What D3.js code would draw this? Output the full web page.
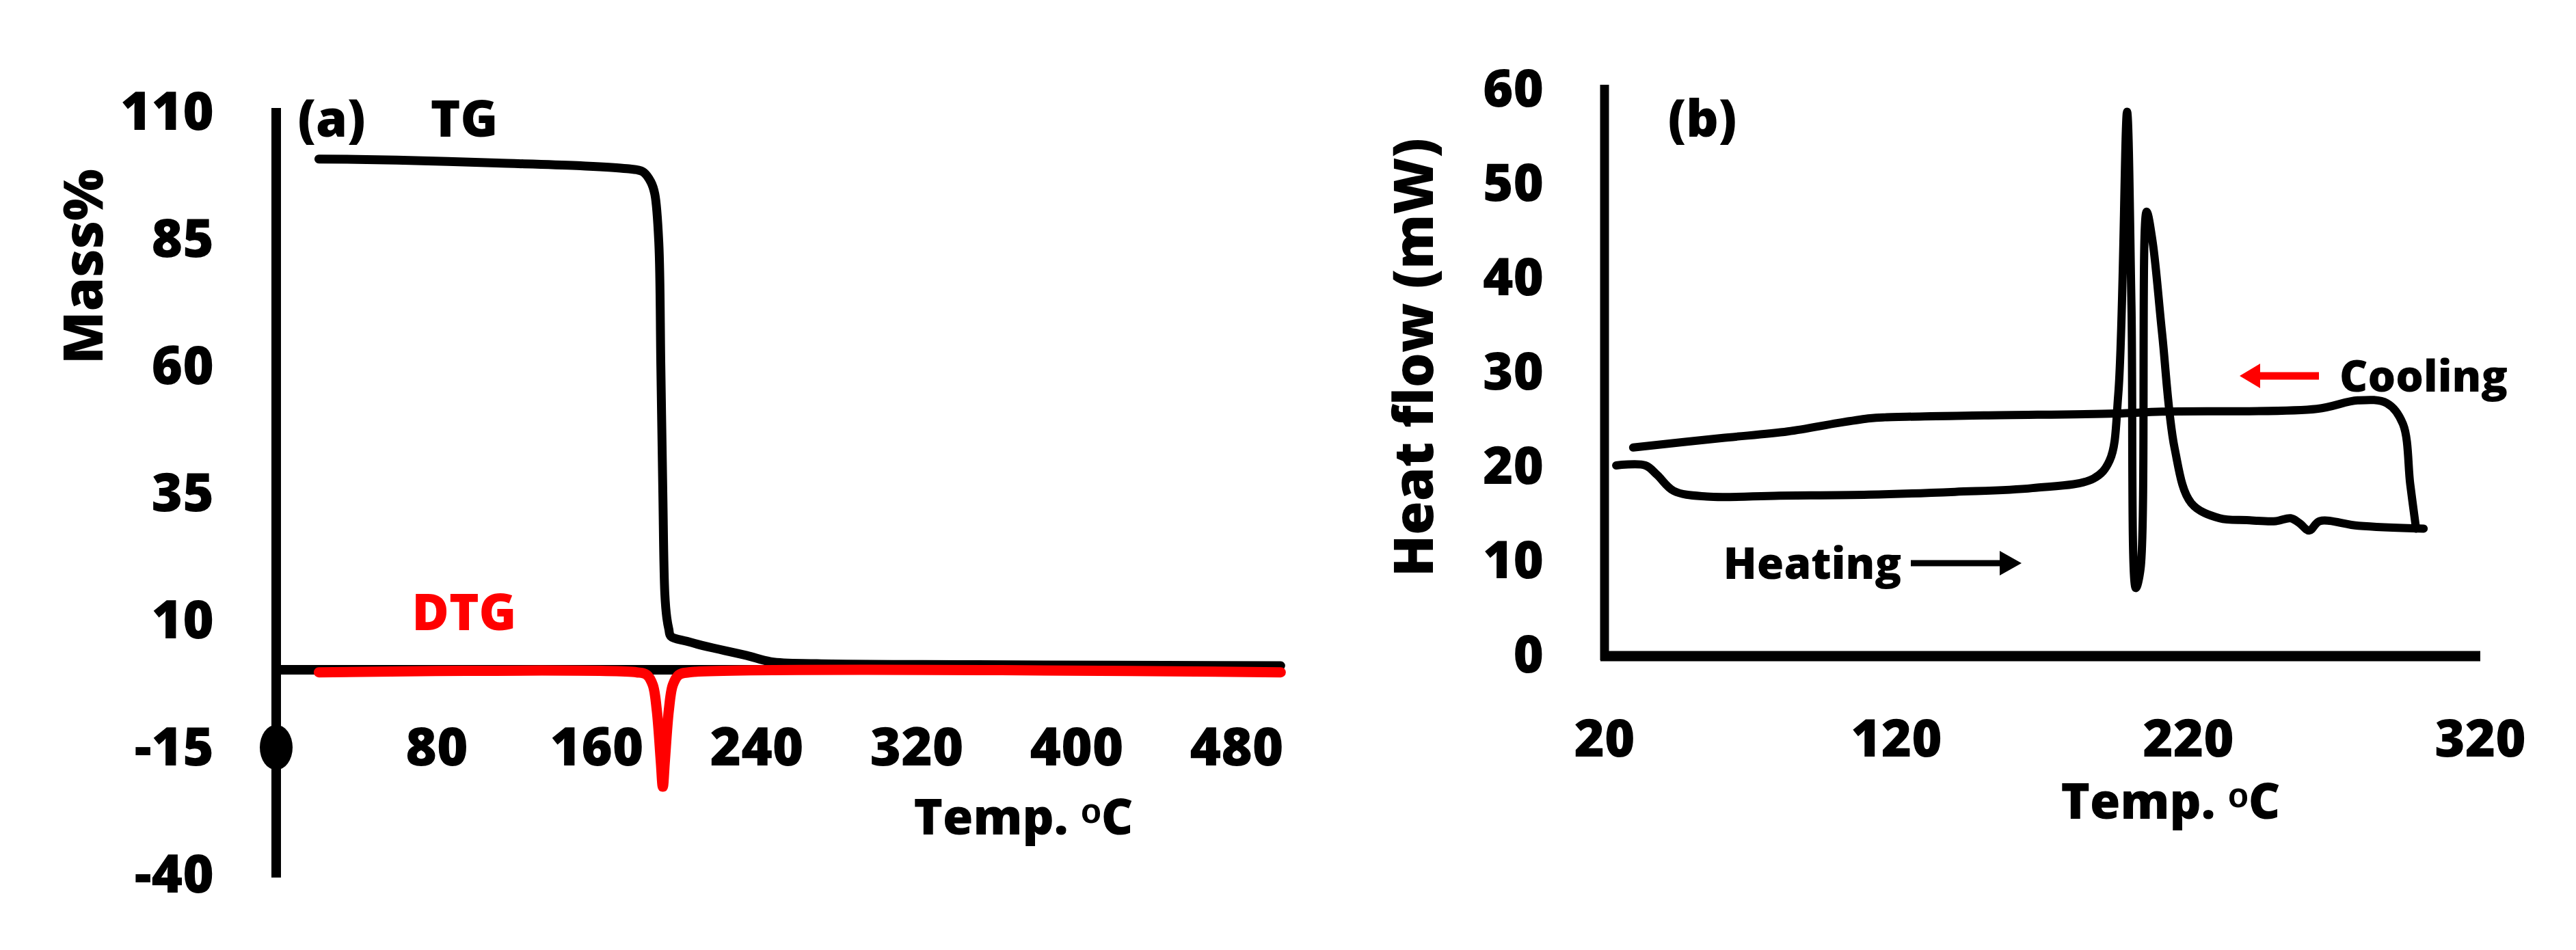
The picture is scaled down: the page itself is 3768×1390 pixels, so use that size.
<!DOCTYPE html>
<html><head><meta charset="utf-8">
<script src="https://cdn.jsdelivr.net/npm/d3@7/dist/d3.min.js"></script>
<style>body{margin:0;background:#fff}text{font-family:"Open Sans",sans-serif;font-weight:800}</style>
</head><body><svg id="c" width="3768" height="1390"></svg>
<script>
// Panel (a) data
const aYTicks = [110, 85, 60, 35, 10, -15, -40];
const aXTicks = [80, 160, 240, 320, 400, 480];
const tgT = [21, 60, 110, 150, 175, 183, 187, 189, 191, 192, 193, 194, 195, 196, 197, 205, 218, 235, 247, 270, 350, 502];
const tgV = [100.5, 100.3, 99.7, 99.2, 98.6, 98, 96, 93.6, 84, 60, 35, 15, 10.2, 8, 6.6, 5.6, 4.3, 2.8, 1.6, 1.2, 1, 0.8];
const dtgT = [21, 180, 185, 188, 190, 192, 193, 194, 196, 198, 201, 206, 502];
const dtgV = [-0.5, -0.5, -1, -3, -8, -18, -23, -18, -8, -3, -1, -0.5, -0.5];
// Panel (b) data
const bYTicks = [0, 10, 20, 30, 40, 50, 60];
const bXTicks = [20, 120, 220, 320];
const heatT = [24, 34, 38, 43.7, 55, 80, 110.6, 140, 166.6, 187.5, 193, 196, 199, 200.5, 202, 203.6, 205.7, 207.8, 211, 215.3, 221, 230.7, 240, 250, 255, 258, 261.4, 265, 278.3, 300.6];
const heatV = [20, 20, 19, 17.3, 16.7, 16.8, 16.9, 17.2, 17.6, 18.6, 20.5, 27.6, 57.5, 37, 7, 9, 46.9, 43.6, 34, 21.8, 16, 14.4, 14.2, 14.1, 14.4, 13.9, 13.1, 14.1, 13.6, 13.3];
const coolT = [298, 296, 293.5, 288, 278, 264, 211, 195, 150, 116, 111, 100, 82.8, 60, 29.8];
const coolV = [13.3, 18, 24.4, 26.6, 26.9, 26, 25.7, 25.5, 25.3, 25.1, 25, 24.5, 23.6, 22.9, 21.9];

const svg = d3.select("#c");

// ---- Panel a
const ax = d3.scaleLinear().domain([0, 480]).range([405, 1809]);
const ay = d3.scaleLinear().domain([0, 110]).range([980, 162]);
svg.append("line").attr("x1", 404).attr("x2", 404).attr("y1", 158).attr("y2", 1284).attr("stroke", "#000").attr("stroke-width", 14);
svg.append("line").attr("x1", 404).attr("x2", ax(502)).attr("y1", ay(0)).attr("y2", ay(0)).attr("stroke", "#000").attr("stroke-width", 14);
aYTicks.forEach(v => svg.append("text").attr("x", 313).attr("y", ay(v)).attr("dy", "0.36em").attr("text-anchor", "end").attr("font-size", 78).text(v));
aXTicks.forEach(t => svg.append("text").attr("x", ax(t)).attr("y", ay(-15)).attr("dy", "0.36em").attr("text-anchor", "middle").attr("font-size", 78).text(t));
svg.append("ellipse").attr("cx", 404).attr("cy", ay(-15) + 2).attr("rx", 24).attr("ry", 33).attr("fill", "#000");
svg.append("path").datum(tgT.map((t, i) => [t, tgV[i]])).attr("d", d3.line().x(d => ax(d[0])).y(d => ay(d[1])).curve(d3.curveCatmullRom)).attr("fill", "none").attr("stroke", "#000").attr("stroke-width", 13).attr("stroke-linecap", "round");
svg.append("path").datum(dtgT.map((t, i) => [t, dtgV[i]])).attr("d", d3.line().x(d => ax(d[0])).y(d => ay(d[1])).curve(d3.curveCatmullRom)).attr("fill", "none").attr("stroke", "#ff0000").attr("stroke-width", 15).attr("stroke-linecap", "round");
svg.append("text").attr("x", 485).attr("y", 173).attr("dy", "0.36em").attr("text-anchor", "middle").attr("font-size", 74).text("(a)");
svg.append("text").attr("x", 679).attr("y", 173).attr("dy", "0.36em").attr("text-anchor", "middle").attr("font-size", 74).text("TG");
svg.append("text").attr("x", 679).attr("y", 895).attr("dy", "0.36em").attr("text-anchor", "middle").attr("font-size", 74).attr("fill", "#ff0000").text("DTG");
svg.append("text").attr("transform", "translate(121,390) rotate(-90)").attr("dy", "0.36em").attr("text-anchor", "middle").attr("font-size", 80).text("Mass%");
svg.append("text").attr("x", 1497).attr("y", 1195).attr("dy", "0.36em").attr("text-anchor", "middle").attr("font-size", 72).text("Temp. \u1d52C");

// ---- Panel b
const bx = d3.scaleLinear().domain([20, 320]).range([2347, 3628]);
const by = d3.scaleLinear().domain([0, 60]).range([957, 129]);
svg.append("line").attr("x1", 2347).attr("x2", 2347).attr("y1", 124).attr("y2", 966).attr("stroke", "#000").attr("stroke-width", 13);
svg.append("line").attr("x1", 2341).attr("x2", 3628).attr("y1", 960).attr("y2", 960).attr("stroke", "#000").attr("stroke-width", 15);
bYTicks.forEach(v => svg.append("text").attr("x", 2258).attr("y", by(v)).attr("dy", "0.36em").attr("text-anchor", "end").attr("font-size", 76).text(v));
bXTicks.forEach(t => svg.append("text").attr("x", bx(t)).attr("y", 1080).attr("dy", "0.36em").attr("text-anchor", "middle").attr("font-size", 76).text(t));
const lb = d3.line().x(d => bx(d[0])).y(d => by(d[1])).curve(d3.curveCatmullRom.alpha(0.5));
svg.append("path").datum(heatT.map((t, i) => [t, heatV[i]])).attr("d", lb).attr("fill", "none").attr("stroke", "#000").attr("stroke-width", 12).attr("stroke-linejoin", "round").attr("stroke-linecap", "round");
svg.append("path").datum(coolT.map((t, i) => [t, coolV[i]])).attr("d", lb).attr("fill", "none").attr("stroke", "#000").attr("stroke-width", 12).attr("stroke-linejoin", "round").attr("stroke-linecap", "round");
svg.append("text").attr("x", 2490).attr("y", 173).attr("dy", "0.36em").attr("text-anchor", "middle").attr("font-size", 74).text("(b)");
svg.append("text").attr("transform", "translate(2067,523) rotate(-90)").attr("dy", "0.36em").attr("text-anchor", "middle").attr("font-size", 80).text("Heat flow (mW)");
svg.append("text").attr("x", 3175).attr("y", 1172).attr("dy", "0.36em").attr("text-anchor", "middle").attr("font-size", 72).text("Temp. \u1d52C");
svg.append("text").attr("x", 3545).attr("y", 550).attr("dy", "0.36em").attr("text-anchor", "middle").attr("font-size", 64).text("Cooling");
svg.append("line").attr("x1", 3392).attr("x2", 3300).attr("y1", 550).attr("y2", 550).attr("stroke", "#ff0000").attr("stroke-width", 11);
svg.append("path").attr("d", "M3276,550 L3306,532 L3306,568 Z").attr("fill", "#ff0000");
svg.append("text").attr("x", 2651).attr("y", 824).attr("dy", "0.36em").attr("text-anchor", "middle").attr("font-size", 64).text("Heating");
svg.append("line").attr("x1", 2795).attr("x2", 2930).attr("y1", 824).attr("y2", 824).attr("stroke", "#000").attr("stroke-width", 9);
svg.append("path").attr("d", "M2957,824 L2925,806 L2925,842 Z").attr("fill", "#000");
</script></body></html>
